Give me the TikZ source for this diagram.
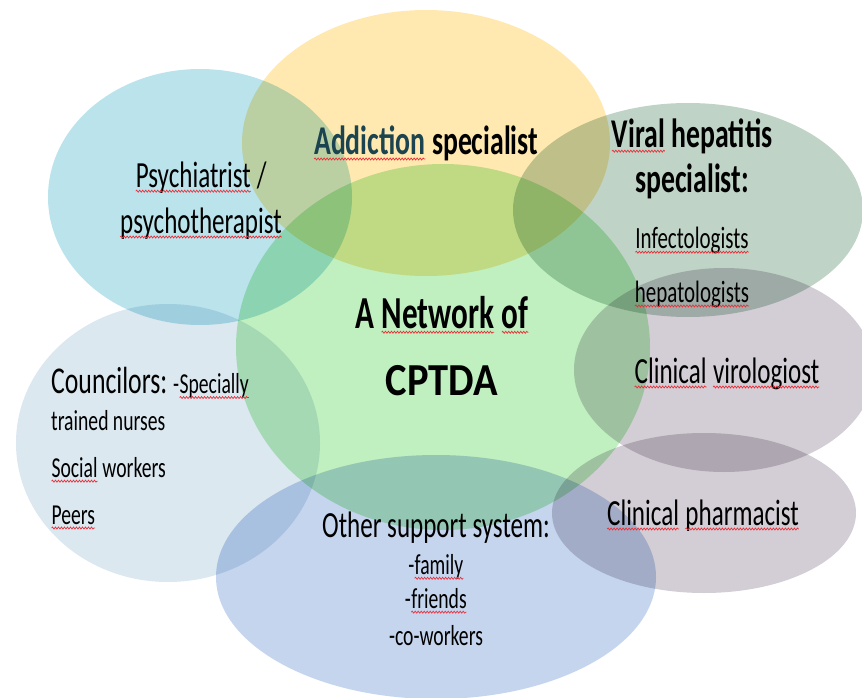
\documentclass[tikz,border=0pt]{standalone}
\usepackage{fontspec}
\setmainfont{Carlito}[FakeStretch=0.68]
\usetikzlibrary{positioning,decorations.pathmorphing}

\definecolor{psyblue}{HTML}{BAE3EC}
\definecolor{addyellow}{HTML}{FFE9B0}
\definecolor{netgreen}{HTML}{C0EFC0}
\definecolor{viralgrey}{HTML}{BFD3C7}
\definecolor{clinmauve}{HTML}{D3CED5}
\definecolor{counblue}{HTML}{DBE8F0}
\definecolor{othblue}{HTML}{C5D5EE}
\definecolor{addteal}{HTML}{1B4450}
\definecolor{squig}{HTML}{E8303A}

% red wavy mark under a word
\newcommand\sq[1]{\tikz[baseline=(w.base)]{%
    \node(w)[inner sep=0pt, outer sep=0pt, anchor=base] {#1};
    \draw[squig, line width=0.7bp, decorate
         , decoration={snake, amplitude=1bp, segment length=3bp}]
         ([yshift=-4bp]w.base west) -- ([yshift=-4bp]w.base east);}}

\begin{document}
\begin{tikzpicture}[x=1bp, y=-1bp, align=center]
    \tikzset{
        bubble/.style   =   { blend mode=multiply
        }
        , big/.style    =   { font=\fontsize{37}{46}\selectfont
                            , anchor=base
                            , inner sep=0pt
        }
        , head/.style   =   { font=\bfseries\fontsize{41}{45}\selectfont
                            , anchor=base
                            , inner sep=0pt
        }
        , small/.style  =   { font=\fontsize{29}{47}\selectfont
                            , anchor=base
                            , inner sep=0pt
        }
    }
    \useasboundingbox (0,0) rectangle (862,698);

    % bubbles
    \fill[bubble, psyblue]    (200,197) ellipse [x radius=152, y radius=128];
    \fill[bubble, addyellow]  (426,143) ellipse [x radius=184, y radius=133];
    \fill[bubble, viralgrey]  (688,210) ellipse [x radius=175, y radius=107];
    \fill[bubble, counblue]   (168,443) ellipse [x radius=152, y radius=139];
    \fill[bubble, netgreen]   (443,347) ellipse [x radius=207, y radius=183];
    \fill[bubble, clinmauve]  (724,370) ellipse [x radius=150, y radius=102];
    \fill[bubble, clinmauve]  (704,513) ellipse [x radius=152, y radius=80];
    \fill[bubble, othblue]    (436,577) ellipse [x radius=220, y radius=122];

    % labels (multi-line ones sit on their last baseline)
    \node(psy)[big]   at (201,233) {\sq{Psychiatrist} /\\\sq{psychotherapist}};
    \node(addict)[head] at (426,155)
        {\textcolor{addteal}{\sq{Addiction}} specialist};
    \node(viral)[head] at (692,192) {\sq{Viral} hepatitis\\specialist:};
    \node(hepa)[small, font=\fontsize{31}{54}\selectfont] at (692,302)
        {\sq{Infectologists}\\\sq{hepatologists}};
    \node(net)[head, font=\bfseries\fontsize{46}{67}\selectfont] at (442,395)
        {A \sq{Network} \sq{of}\\\scalebox{1.3}[1]{CPTDA}};
    \node(coun)[small, anchor=base west, align=left] at (51,524)
        {{\fontsize{38}{46}\selectfont Councilors:} -\sq{Specially}\\[-10bp]
         trained nurses\\\sq{Social} workers\\\sq{Peers}};
    \node(other)[small, font=\fontsize{29}{36}\selectfont] at (436,645)
        {{\fontsize{37}{46}\selectfont Other support system:}\\[1bp]
         -\sq{family}\\[-2bp]-\sq{friends}\\[1bp]-co-workers};
    \node(viro)[big]  at (727,383) {\sq{Clinical} \sq{virologiost}};
    \node(pharm)[big] at (703,525) {\sq{Clinical} \sq{pharmacist}};
\end{tikzpicture}
\end{document}
